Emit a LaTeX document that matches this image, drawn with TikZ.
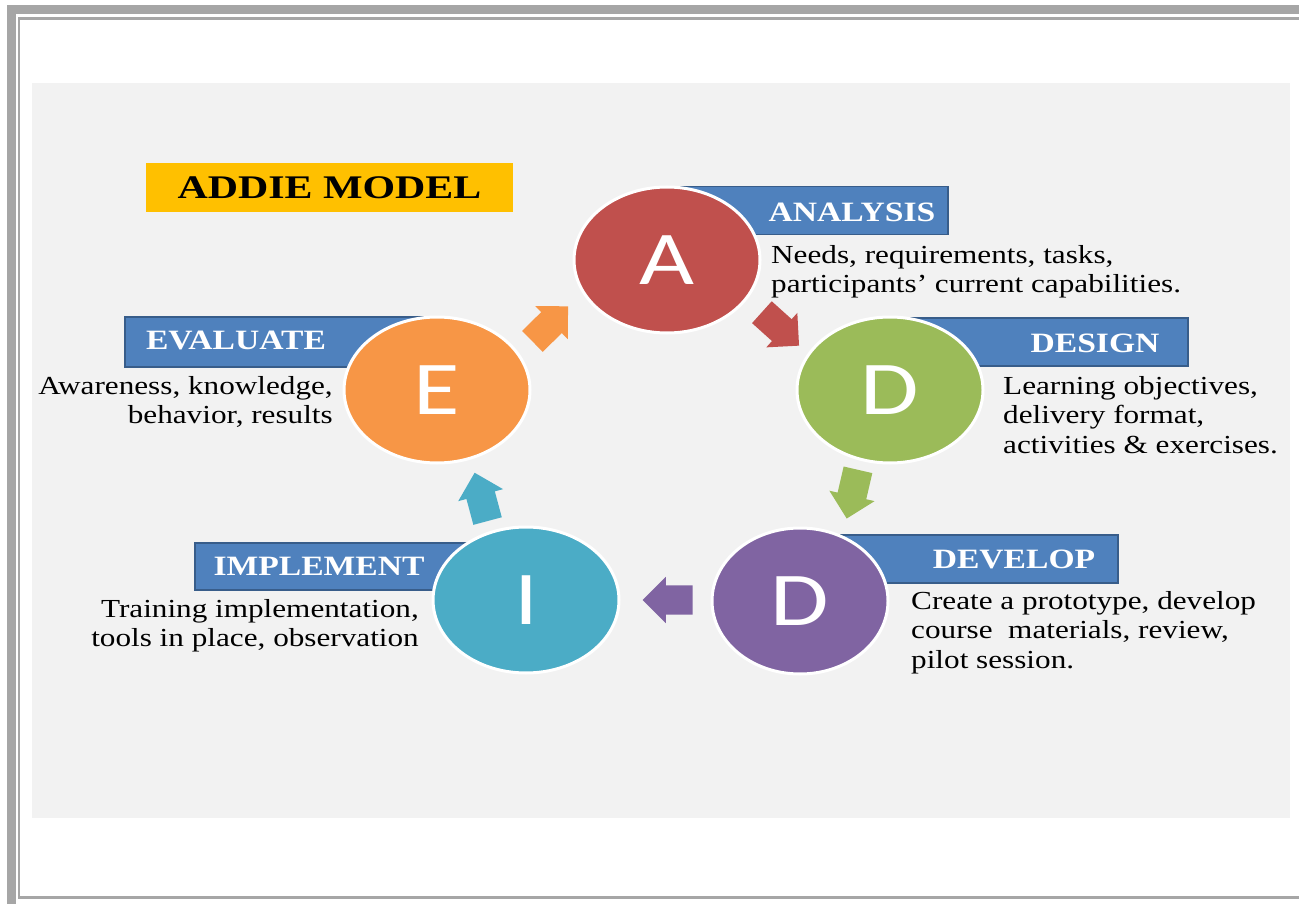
\documentclass[tikz,border=0pt]{standalone}
\usepackage{fontspec}
\usepackage{tikz}
\usetikzlibrary{shapes.geometric}
\usetikzlibrary{shapes.arrows}
\setmainfont{Liberation Serif}
\newfontfamily\descfont[FakeStretch=1.2]{Liberation Serif}
\newfontfamily\tagfont[FakeStretch=1.2]{Liberation Serif}
\newfontfamily\titlefont[FakeStretch=1.27]{Liberation Serif}
\newfontfamily\letterfont[FakeStretch=1.25]{Carlito}
\definecolor{framegray}{HTML}{A6A6A6}
\definecolor{panelgray}{HTML}{F2F2F2}
\definecolor{titleyellow}{HTML}{FFC000}
\definecolor{tagblue}{HTML}{4F81BD}
\definecolor{tagedge}{HTML}{385D8A}
\definecolor{addiered}{HTML}{C0504D}
\definecolor{addiegreen}{HTML}{9BBB59}
\definecolor{addiepurple}{HTML}{8064A2}
\definecolor{addieteal}{HTML}{4BACC6}
\definecolor{addieorange}{HTML}{F79646}
\tikzstyle{stage}=[ellipse, draw=white, line width=3pt, minimum width=186pt, minimum height=146pt, inner sep=0pt, text=white, font=\letterfont\fontsize{76}{76}\selectfont]
\tikzstyle{tagbox}=[rectangle, draw=tagedge, fill=tagblue, line width=1.5pt, inner sep=0pt, minimum height=48pt]
\tikzstyle{tag}=[inner sep=0pt, text=white, font=\tagfont\bfseries\fontsize{28}{28}\selectfont]
\tikzstyle{desc}=[inner sep=0pt, font=\descfont\fontsize{26}{29.5}\selectfont]
\tikzstyle{turn}=[single arrow, draw=none, inner xsep=0pt, inner ysep=14.5pt, minimum height=50pt, single arrow head extend=8.5pt]

\begin{document}
\begin{tikzpicture}[x=1pt, y=-1pt]
    \useasboundingbox (0,0) rectangle (1299,904);
    % frame and panel
    \draw[framegray, line width=9pt] (11,904) -- (11,9.5) -- (1299,9.5);
    \draw[framegray, line width=2.5pt] (1299,18.5) -- (19,18.5) -- (19,897.5) -- (1299,897.5);
    \fill[panelgray] (32,83) rectangle (1290,818);
    \node[fill=titleyellow, minimum width=367pt, minimum height=49pt, inner sep=0pt, font=\titlefont\bfseries\fontsize{33}{33}\selectfont] (title) at (329.5,187.5) {ADDIE MODEL};
    % label boxes
    \node[tagbox, minimum width=281pt] (Abox) at (807.5,210.5) {};
    \node[tagbox, minimum width=298pt] (Dbox) at (1039,342) {};
    \node[tagbox, minimum width=318pt] (Vbox) at (959,559) {};
    \node[tagbox, minimum width=312pt, minimum height=50pt] (Ebox) at (281,342) {};
    \node[tagbox, minimum width=331pt, minimum height=47pt] (Ibox) at (360.5,566.5) {};
    \node[tag] (Atag) at (852,212) {ANALYSIS};
    \node[tag] (Dtag) at (1095,343) {DESIGN};
    \node[tag] (Vtag) at (1014,559) {DEVELOP};
    \node[tag] (Etag) at (236,340) {EVALUATE};
    \node[tag] (Itag) at (319,566) {IMPLEMENT};
    % stages
    \node[stage, fill=addiered] (A) at (667,260) {A};
    \node[stage, fill=addiegreen] (D) at (890,390) {D};
    \node[stage, fill=addiepurple, minimum width=176pt] (V) at (800,601) {D};
    \node[stage, fill=addieteal] (I) at (526,600) {I};
    \node[stage, fill=addieorange] (E) at (437,390) {E};
    % texts
    \node[desc, anchor=north west, align=left] (Atext) at (771,245) {Needs, requirements, tasks,\\participants’ current capabilities.};
    \node[desc, anchor=north west, align=left] (Dtext) at (1003,376) {Learning objectives,\\delivery format,\\activities \& exercises.};
    \node[desc, anchor=north west, align=left] (Vtext) at (911,591) {Create a prototype, develop\\course\ \ materials, review,\\pilot session.};
    \node[desc, anchor=north east, align=right] (Itext) at (419,599) {Training implementation,\\tools in place, observation};
    \node[desc, anchor=north east, align=right] (Etext) at (333,376) {Awareness, knowledge,\\behavior, results};
    % arrows
    \node[turn, fill=addieorange, rotate=44.5] (EA) at (545,329) {};
    \node[turn, fill=addiered, rotate=-42] (AD) at (775,324) {};
    \node[turn, fill=addiegreen, rotate=-103] (DV) at (854,487) {};
    \node[turn, fill=addiepurple, rotate=180] (VI) at (675,600) {};
    \node[turn, fill=addieteal, rotate=105] (IE) at (483,504) {};
\end{tikzpicture}
\end{document}
